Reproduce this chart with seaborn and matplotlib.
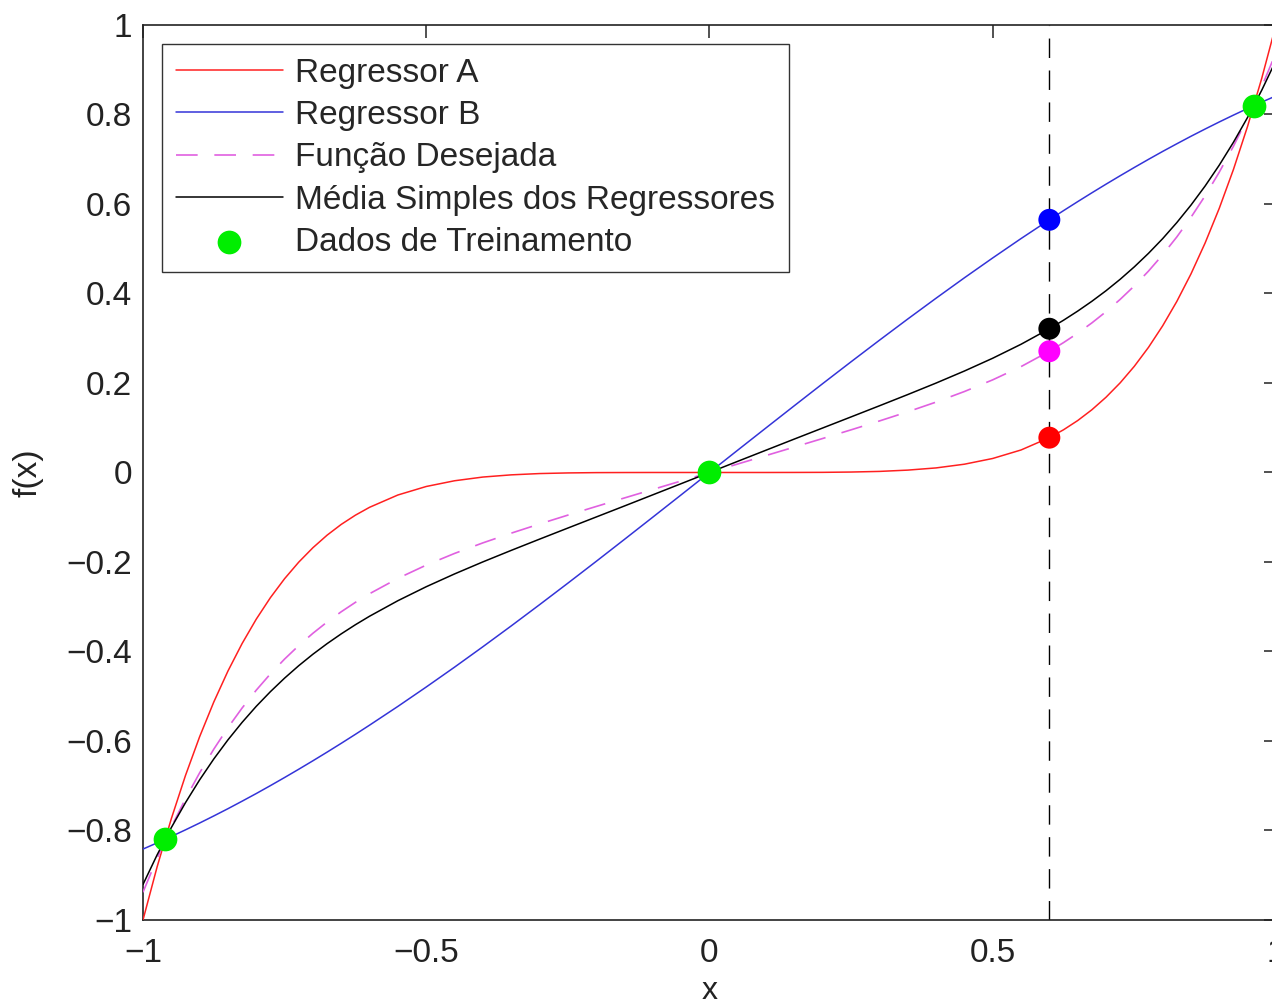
import matplotlib
matplotlib.use("Agg")
import matplotlib.pyplot as plt
import seaborn as sns
import pandas as pd

# ---------------- data ----------------
x_vals = [-1.00, -0.975, -0.95, -0.925, -0.90, -0.875, -0.85, -0.825, -0.80, -0.775,
          -0.75, -0.725, -0.70, -0.675, -0.65, -0.625, -0.60, -0.55, -0.50, -0.45,
          -0.40, -0.35, -0.30, -0.25, -0.20, -0.15, -0.10, -0.05, 0.00,
          0.05, 0.10, 0.15, 0.20, 0.25, 0.30, 0.35, 0.40, 0.45, 0.50, 0.55, 0.60,
          0.625, 0.65, 0.675, 0.70, 0.725, 0.75, 0.775, 0.80, 0.825, 0.85, 0.875,
          0.90, 0.925, 0.95, 0.975, 1.00]

regressor_a = [-1.0000, -0.8811, -0.7738, -0.6772, -0.5905, -0.5129, -0.4437, -0.3822, -0.3277, -0.2796,
               -0.2373, -0.2003, -0.1681, -0.1401, -0.1160, -0.0954, -0.0778, -0.0503, -0.0313, -0.0185,
               -0.0102, -0.0053, -0.0024, -0.0010, -0.0003, -0.0001, 0.0000, 0.0000, 0.0000,
               0.0000, 0.0000, 0.0001, 0.0003, 0.0010, 0.0024, 0.0053, 0.0102, 0.0185, 0.0313, 0.0503, 0.0778,
               0.0954, 0.1160, 0.1401, 0.1681, 0.2003, 0.2373, 0.2796, 0.3277, 0.3822, 0.4437, 0.5129,
               0.5905, 0.6772, 0.7738, 0.8811, 1.0000]

regressor_b = [-0.8415, -0.8277, -0.8134, -0.7986, -0.7833, -0.7675, -0.7513, -0.7345, -0.7174, -0.6997,
               -0.6816, -0.6631, -0.6442, -0.6249, -0.6052, -0.5851, -0.5646, -0.5227, -0.4794, -0.4350,
               -0.3894, -0.3429, -0.2955, -0.2474, -0.1987, -0.1494, -0.0998, -0.0500, 0.0000,
               0.0500, 0.0998, 0.1494, 0.1987, 0.2474, 0.2955, 0.3429, 0.3894, 0.4350, 0.4794, 0.5227, 0.5646,
               0.5851, 0.6052, 0.6249, 0.6442, 0.6631, 0.6816, 0.6997, 0.7174, 0.7345, 0.7513, 0.7675,
               0.7833, 0.7986, 0.8134, 0.8277, 0.8415]

funcao_desejada = [-0.9380, -0.8621, -0.7926, -0.7291, -0.6712, -0.6183, -0.5702, -0.5263, -0.4864, -0.4500,
                   -0.4169, -0.3868, -0.3593, -0.3342, -0.3112, -0.2902, -0.2709, -0.2366, -0.2070, -0.1809,
                   -0.1573, -0.1356, -0.1151, -0.0953, -0.0760, -0.0569, -0.0379, -0.0190, 0.0000,
                   0.0190, 0.0379, 0.0569, 0.0760, 0.0953, 0.1151, 0.1356, 0.1573, 0.1809, 0.2070, 0.2366, 0.2709,
                   0.2902, 0.3112, 0.3342, 0.3593, 0.3868, 0.4169, 0.4500, 0.4864, 0.5263, 0.5702, 0.6183,
                   0.6712, 0.7291, 0.7926, 0.8621, 0.9380]

media_regressores = [-0.9207, -0.8544, -0.7936, -0.7379, -0.6869, -0.6402, -0.5975, -0.5584, -0.5225, -0.4897,
                     -0.4595, -0.4317, -0.4061, -0.3825, -0.3606, -0.3402, -0.3212, -0.2865, -0.2553, -0.2267,
                     -0.1998, -0.1741, -0.1490, -0.1242, -0.0995, -0.0748, -0.0499, -0.0250, 0.0000,
                     0.0250, 0.0499, 0.0748, 0.0995, 0.1242, 0.1490, 0.1741, 0.1998, 0.2267, 0.2553, 0.2865, 0.3212,
                     0.3402, 0.3606, 0.3825, 0.4061, 0.4317, 0.4595, 0.4897, 0.5225, 0.5584, 0.5975, 0.6402,
                     0.6869, 0.7379, 0.7936, 0.8544, 0.9207]

train_x = [-0.961, 0.0, 0.961]
train_y = [-0.820, 0.0, 0.820]

query_x = 0.6
query_names = ["Regressor B", "Média", "Desejada", "Regressor A"]
query_y = [0.5646, 0.3212, 0.2709, 0.0778]

x_ticks = [-1, -0.5, 0, 0.5, 1]
x_tick_labels = ["\u22121", "\u22120.5", "0", "0.5", "1"]
y_ticks = [-1, -0.8, -0.6, -0.4, -0.2, 0, 0.2, 0.4, 0.6, 0.8, 1]
y_tick_labels = ["\u22121", "\u22120.8", "\u22120.6", "\u22120.4", "\u22120.2", "0",
                 "0.2", "0.4", "0.6", "0.8", "1"]

# ---------------- style ----------------
sns.set_theme(style="white")
plt.rcParams["font.family"] = ["Liberation Sans", "DejaVu Sans"]
plt.rcParams["axes.unicode_minus"] = True

fig = plt.figure(figsize=(12.72, 10.07), dpi=100)
ax = fig.add_axes([0.1124, 0.0864, 0.8907, 0.8888])

df = pd.DataFrame({"x": x_vals, "A": regressor_a, "B": regressor_b,
                   "D": funcao_desejada, "M": media_regressores})

ax.axvline(query_x, color="black", lw=1.0, ls=(0, (14, 9)), zorder=1)

sns.lineplot(data=df, x="x", y="A", color="#ff2020", lw=1.1, sort=False,
             estimator=None, ax=ax, label="Regressor A", zorder=3)
sns.lineplot(data=df, x="x", y="B", color="#3434d8", lw=1.1, sort=False,
             estimator=None, ax=ax, label="Regressor B", zorder=3)
sns.lineplot(data=df, x="x", y="D", color="#e060e0", lw=1.2, sort=False,
             estimator=None, ax=ax, label="Função Desejada", zorder=3,
             linestyle=(0, (13, 10)))
sns.lineplot(data=df, x="x", y="M", color="black", lw=1.1, sort=False,
             estimator=None, ax=ax, label="Média Simples dos Regressores", zorder=3)

sns.scatterplot(x=train_x, y=train_y, color="#00ee00", edgecolor="#00ee00",
                s=250, ax=ax, label="Dados de Treinamento", zorder=5)

q_colors = ["#0000ff", "#000000", "#ff00ff", "#ff0000"]
sns.scatterplot(x=[query_x] * len(query_y), y=query_y, hue=query_names,
                palette=q_colors, s=250, linewidth=0, ax=ax, legend=False, zorder=5)

ax.set_xlim(-1, 1)
ax.set_ylim(-1, 1)
ax.set_xticks(x_ticks)
ax.set_xticklabels(x_tick_labels)
ax.set_yticks(y_ticks)
ax.set_yticklabels(y_tick_labels)
ax.tick_params(direction="in", length=9, width=1.1, top=True, right=True,
               labelsize=24, colors="#222222", pad=8)
ax.tick_params(axis="x", pad=13)
for sp in ax.spines.values():
    sp.set_color("#222222")
    sp.set_linewidth(1.2)

ax.set_xlabel("x", fontsize=23, color="#222222", labelpad=5)
ax.set_ylabel("f(x)", fontsize=24, color="#222222")
ax.yaxis.set_label_coords(-0.088, 0.5)

handles, labels = ax.get_legend_handles_labels()
leg = ax.legend(handles, labels, loc="upper left", bbox_to_anchor=(0.0168, 0.979),
                borderaxespad=0, fontsize=24, handlelength=3.2, handletextpad=0.38,
                labelspacing=0.34, borderpad=0.42, frameon=True, fancybox=False,
                edgecolor="#333333", framealpha=1)
leg.get_frame().set_linewidth(1.0)

fig.savefig("out.png", dpi=100)
